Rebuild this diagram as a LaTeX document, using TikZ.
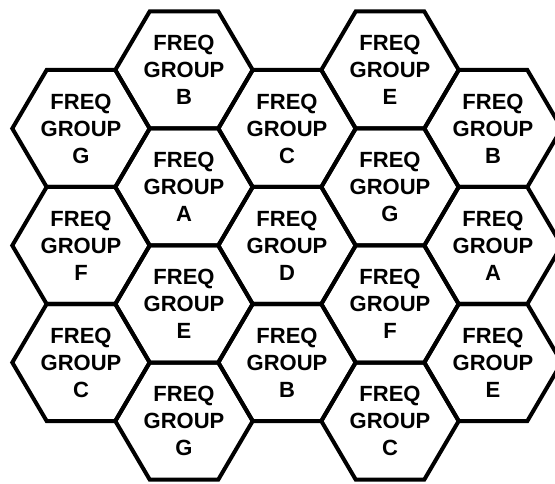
\documentclass[tikz,border=0pt]{standalone}
\usepackage{fontspec}
\setmainfont{Liberation Sans}
\usetikzlibrary{calc}
\begin{document}
\begin{tikzpicture}[x=1pt,y=-1pt,
  hexline/.style={draw=black,line width=4pt,line join=miter},
  lbl/.style={align=center,font=\fontsize{22}{27}\selectfont\bfseries,inner sep=0pt}]
\useasboundingbox (0,0) rectangle (555,484);
\def\R{68.7}
\def\H{58.5}
\foreach \n/\x/\y/\l in {
  g1/81/128.5/G, f1/81/245.5/F, c1/81/362.5/C,
  b2/184/70/B, a2/184/187/A, e2/184/304/E, g2/184/421/G,
  c3/287/128.5/C, d3/287/245.5/D, b3/287/362.5/B,
  e4/390/70/E, g4/390/187/G, f4/390/304/F, c4/390/421/C,
  b5/493/128.5/B, a5/493/245.5/A, e5/493/362.5/E}{
  \node[lbl] (\n) at (\x,\y) {FREQ\\GROUP\\\l};
  \draw[hexline] ($(\n.center)+(\R,0)$) -- ++(-\R/2,-\H) -- ++(-\R,0) -- ++(-\R/2,\H) -- ++(\R/2,\H) -- ++(\R,0) -- cycle;
}
\end{tikzpicture}
\end{document}
